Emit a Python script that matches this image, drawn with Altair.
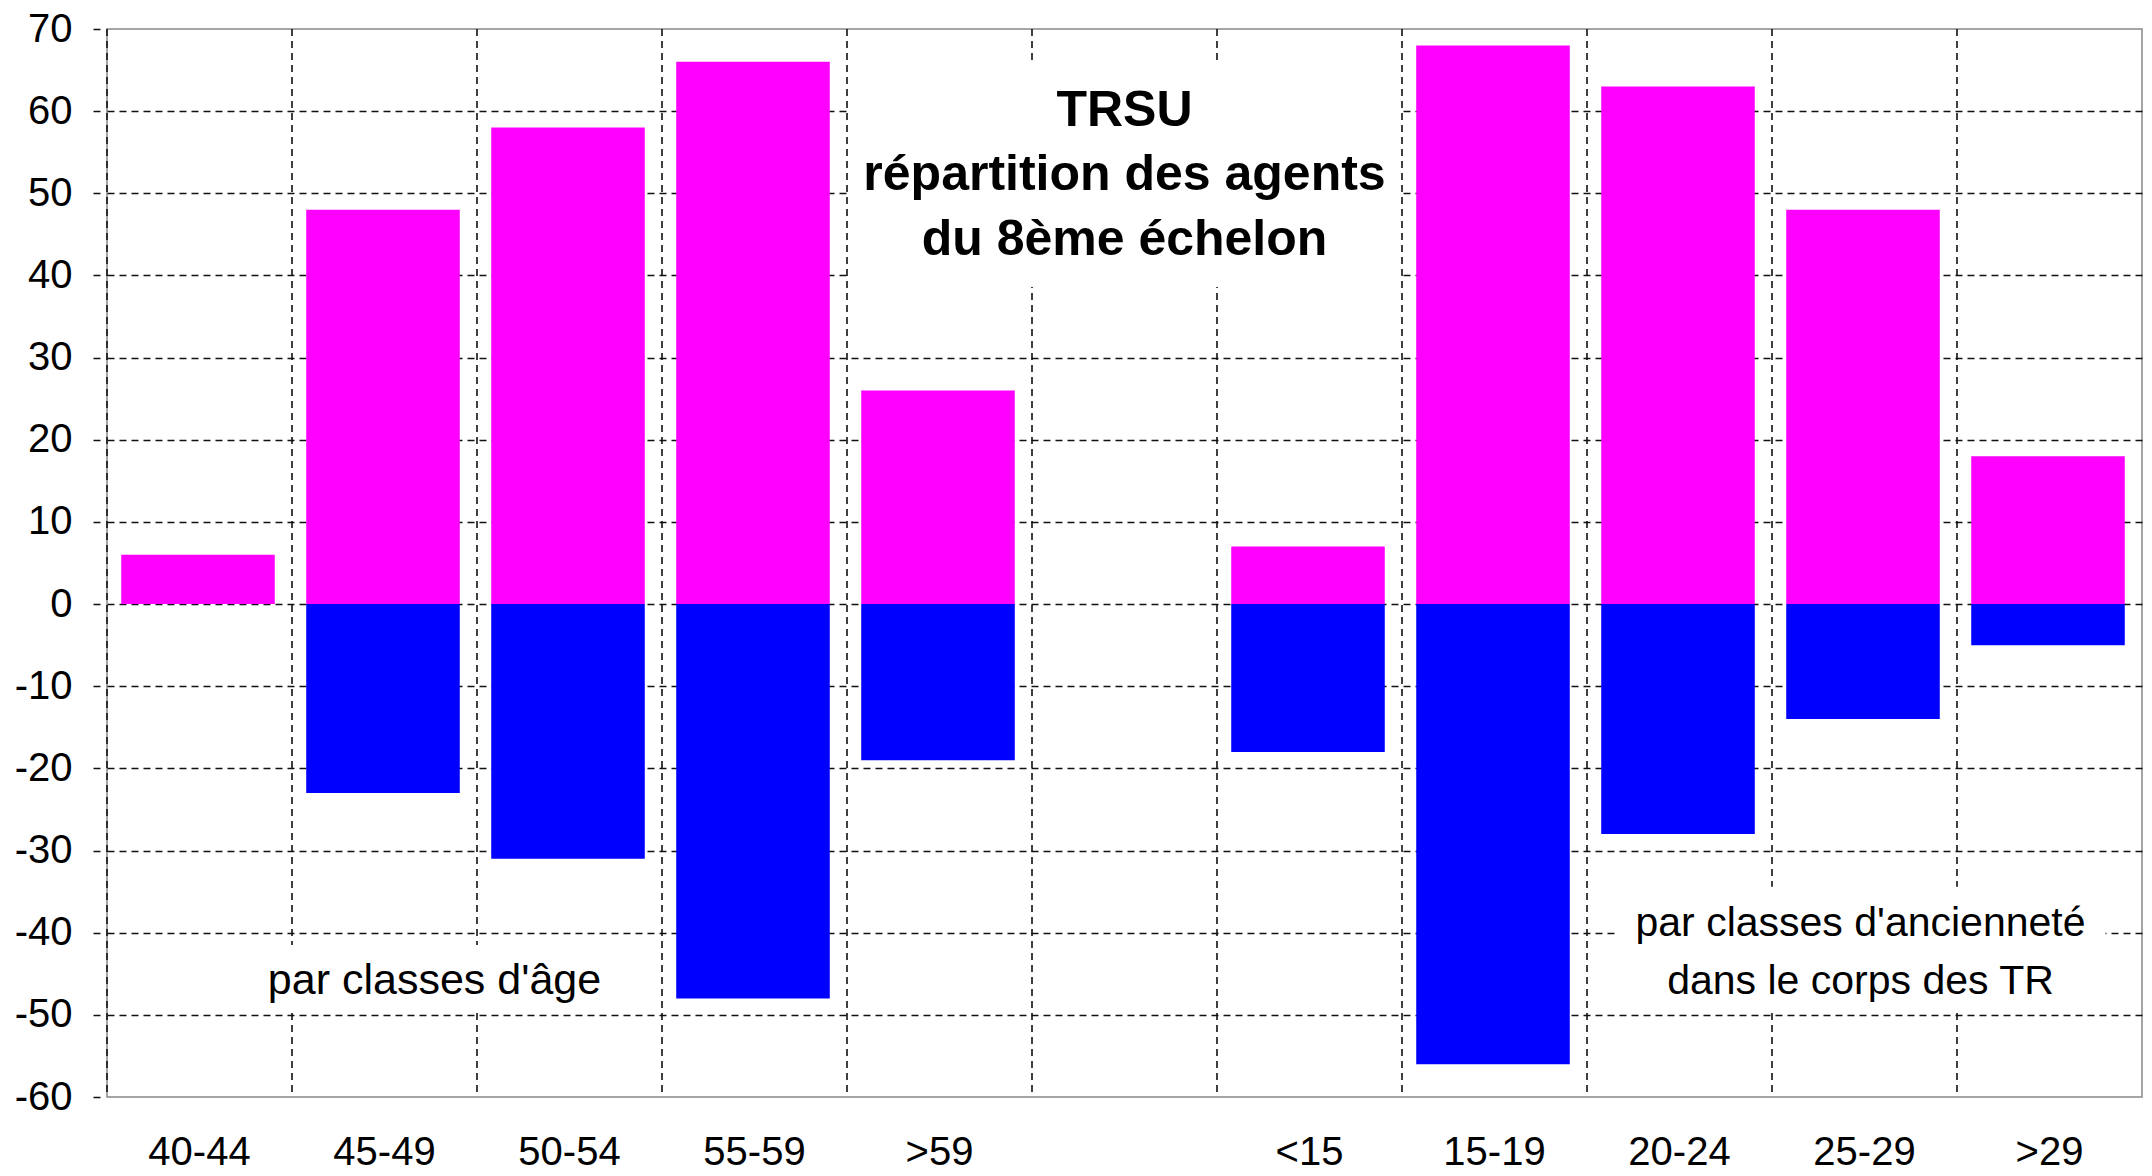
import altair as alt
import pandas as pd

# ---- data ----
categories = ["40-44", "45-49", "50-54", "55-59", ">59", " ", "<15", "15-19", "20-24", "25-29", ">29"]
bar_cats = ["40-44", "45-49", "50-54", "55-59", ">59", "<15", "15-19", "20-24", "25-29", ">29"]
upper = [6, 48, 58, 66, 26, 7, 68, 63, 48, 18]
lower = [0, -23, -31, -48, -19, -18, -56, -28, -14, -5]
series = ["haut", "bas"]
colors = ["#FF00FF", "#0000FF"]
y_ticks = list(range(-60, 71, 10))

title_lines = ["TRSU", "répartition des agents", "du 8ème échelon"]
title_y = [58.2, 50.4, 42.5]
age_lines = ["par classes d'âge"]
age_y = [-47.5]
anc_lines = ["par classes d'ancienneté", "dans le corps des TR"]
anc_y = [-40.4, -47.5]

# white boxes behind the annotations (category, y-from, y-to)
mask_cat = [" ", "45-49", "25-29"]
mask_y1 = [38.6, -41.5, -34.4]
mask_y2 = [66.2, -49.6, -49.4]

FONT = "Liberation Sans"
GRID = "#111111"

bars_df = pd.DataFrame({
    "cat": bar_cats * 2,
    "val": upper + lower,
    "serie": [series[0]] * len(bar_cats) + [series[1]] * len(bar_cats),
})
bars_df = bars_df[bars_df["val"] != 0]

xscale = alt.Scale(domain=categories, paddingInner=0, paddingOuter=0)
xaxis = alt.Axis(title=None, ticks=False, tickSize=0, domain=False, grid=False,
                 labelFontSize=40, labelPadding=35, labelAngle=0, labelColor="black",
                 labelFont=FONT)
yscale = alt.Scale(domain=[-60, 70], nice=False, zero=False)
yaxis = alt.Axis(title=None, values=y_ticks, domain=False,
                 labelExpr="'' + datum.value",
                 grid=True, gridDash=[7, 5], gridColor=GRID, gridWidth=1.6,
                 gridOpacity={"condition": {"test": "datum.value <= -60 || datum.value >= 70", "value": 0}, "value": 1},
                 tickSize=14, tickDash=[0, 7, 7, 60], tickColor=GRID, tickWidth=1.6,
                 labelPadding=21, labelFontSize=40, labelColor="black", labelFont=FONT,
                 labelFlush=False, labelOverlap=False, labelBound=False)

def X(field="cat", **kw):
    return alt.X(f"{field}:N", scale=xscale, axis=xaxis, sort=None, **kw)

def Y(field):
    return alt.Y(f"{field}:Q", scale=yscale, axis=yaxis)

# vertical dashed grid lines at band boundaries
rules = alt.Chart(pd.DataFrame({"cat": categories})).mark_rule(
    strokeDash=[7, 5], color=GRID, strokeWidth=1.6
).encode(x=X(bandPosition=0))

# white masks
mask_widths = [550, 360, 490]
mask_offsets = [0, 50, -4]
masks = []
for c, a, b, w, o in zip(mask_cat, mask_y1, mask_y2, mask_widths, mask_offsets):
    d = pd.DataFrame({"cat": [c], "y1": [a], "y2": [b]})
    masks.append(alt.Chart(d).mark_bar(color="white", width=w, xOffset=o).encode(
        x=X(), y=Y("y1"), y2=alt.Y2("y2:Q")))

bars = alt.Chart(bars_df).mark_bar(width=alt.RelativeBandSize(0.83), xOffset=-1.5).encode(
    x=X(), y=Y("val").stack(None),
    color=alt.Color("serie:N", scale=alt.Scale(domain=series, range=colors), legend=None),
)

title_df = pd.DataFrame({"cat": [" "] * 3, "t": title_lines, "y": title_y})
title_txt = alt.Chart(title_df).mark_text(font=FONT, fontSize=50, fontWeight="bold",
                                          baseline="alphabetic", align="center", color="black").encode(
    x=X(), y=Y("y"), text="t:N")

age_df = pd.DataFrame({"cat": ["45-49"], "t": age_lines, "y": age_y})
age_txt = alt.Chart(age_df).mark_text(font=FONT, fontSize=43, baseline="alphabetic",
                                      align="center", color="black", dx=50).encode(
    x=X(), y=Y("y"), text="t:N")

anc_df = pd.DataFrame({"cat": ["25-29"] * 2, "t": anc_lines, "y": anc_y})
anc_txt = alt.Chart(anc_df).mark_text(font=FONT, fontSize=41, baseline="alphabetic",
                                      align="center", color="black", dx=-4).encode(
    x=X(), y=Y("y"), text="t:N")

chart = alt.layer(rules, *masks, bars, title_txt, age_txt, anc_txt).properties(
    width=2035, height=1068,
    padding={"left": 99, "top": 21, "right": 1, "bottom": 81},
    autosize=alt.AutoSizeParams(type="none"),
    background="white",
).configure(font=FONT).configure_view(stroke="#888888", strokeWidth=1.5)

chart.save("out.html", embed_options={"renderer": "svg", "actions": False})
